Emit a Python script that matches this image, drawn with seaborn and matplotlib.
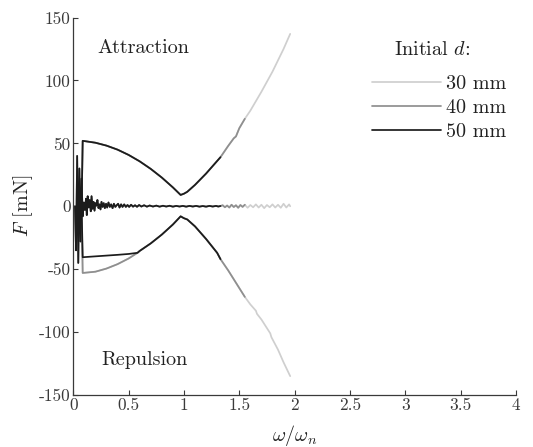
import numpy as np
import pandas as pd
import matplotlib
matplotlib.use("Agg")
import matplotlib.pyplot as plt
import seaborn as sns
from matplotlib.lines import Line2D

# ---- data -----------------------------------------------------------------
# Initial gap of each run and the last frequency ratio it reached
gaps_mm = [30, 40, 50]
gap_colors = ["#cfcfcf", "#8f8f8f", "#1c1c1c"]
end_freq = [1.96, 1.55, 1.33]

# Peak attractive force (upper envelope), shared by all runs
upper_x = [0.075, 0.085, 0.2, 0.3, 0.4, 0.5, 0.6, 0.7, 0.8, 0.9, 0.97, 1.0,
           1.03, 1.1, 1.2, 1.3, 1.33, 1.4, 1.45, 1.47, 1.5, 1.55, 1.6, 1.7,
           1.8, 1.9, 1.96]
upper_F = [0.0, 52.0, 50.5, 48.2, 45.0, 40.8, 35.7, 29.7, 22.8, 15.0, 9.0, 10.0,
           11.5, 17.0, 26.0, 36.0, 39.0, 48.0, 54.0, 55.5, 62.0, 69.5, 76.0, 91.0,
           107.0, 125.0, 137.0]

# Peak repulsive force (lower envelope)
lower_x = [0.075, 0.085, 0.2, 0.3, 0.4, 0.5, 0.58, 0.6, 0.7, 0.8, 0.9, 0.97,
           1.0, 1.03, 1.1, 1.2, 1.3, 1.33, 1.4, 1.5, 1.55, 1.6, 1.65, 1.66, 1.7,
           1.78, 1.79, 1.85, 1.9, 1.96]
lower_F_wide = [0.0, -53.0, -52.0, -49.5, -46.0, -41.5, -37.0, -35.5, -29.5,
                -22.5, -14.5, -8.0, -9.5, -10.5, -16.0, -26.0, -37.0, -42.0,
                -51.0, -65.0, -72.0, -78.0, -83.0, -85.5, -90.0, -101.0,
                -104.0, -114.0, -124.0, -135.0]
# the 50 mm run stays flatter at low frequency before joining the others
lower_F_50_low = [0.0, -40.5, -39.8, -39.2, -38.6, -37.9, -37.0]

# Mean force: start-up transient, then a small residual ripple
mean_x = [0.015, 0.025, 0.035, 0.045, 0.055, 0.065, 0.075, 0.085, 0.095,
          0.105, 0.115, 0.122, 0.130, 0.140, 0.148, 0.158, 0.165, 0.175,
          0.183, 0.192, 0.200, 0.210, 0.218, 0.228, 0.236, 0.246, 0.255,
          0.265, 0.275, 0.285, 0.296, 0.306, 0.318, 0.330, 0.342, 0.355,
          0.367, 0.380, 0.392, 0.405, 0.418, 0.432, 0.445, 0.460, 0.475,
          0.490, 0.505, 0.522, 0.540, 0.558, 0.576, 0.595, 0.615, 0.640,
          0.665, 0.690, 0.720, 0.750, 0.780, 0.810, 0.840, 0.870, 0.900,
          0.930, 0.960, 0.990, 1.020, 1.050, 1.080, 1.110, 1.140, 1.170,
          1.200, 1.230, 1.260, 1.290, 1.310, 1.330,
          1.350, 1.370, 1.390, 1.410, 1.430, 1.450, 1.470, 1.490, 1.510,
          1.530, 1.550, 1.575, 1.600, 1.625, 1.650, 1.675, 1.700, 1.725,
          1.750, 1.775, 1.800, 1.825, 1.850, 1.875, 1.900, 1.925, 1.950,
          1.960]
mean_F = [0.0, -35.0, 40.0, -45.0, 30.0, -28.0, 22.0, -8.0, 3.0,
          -3.0, 6.0, -7.0, 8.0, -1.0, 5.0, -4.0, 8.0, -2.0,
          3.5, -3.5, 2.5, 0.5, 5.0, -1.5, 1.5, -2.5, 3.5,
          -0.5, 2.5, -1.5, 2.0, -1.0, 3.0, -0.5, 1.5, -1.5,
          2.0, -0.5, 0.8, 2.0, -1.0, 1.5, -0.5, 1.5, -0.5,
          1.0, -0.5, 1.2, -0.3, 0.8, -0.4, 1.0, -0.2, 0.8,
          -0.3, 0.6, -0.2, 0.5, -0.3, 0.4, -0.2, 0.4, -0.3,
          0.3, -0.2, 0.3, -0.3, 0.3, -0.2, 0.3, -0.3, 0.2,
          -0.3, 0.3, -0.2, 0.3, -0.2, 0.2,
          0.8, -0.8, 0.6, -1.0, 1.2, -0.6, 0.8, -1.2, 1.0,
          -0.5, 1.2, -1.2, 1.0, -0.8, 1.5, -1.0, 1.2, -1.5,
          1.0, -0.8, 1.5, -1.0, 1.2, -1.2, 2.0, -1.0, 1.5,
          0.0]

x_ticks = [0, 0.5, 1, 1.5, 2, 2.5, 3, 3.5, 4]
x_tick_labels = ["0", "0.5", "1", "1.5", "2", "2.5", "3", "3.5", "4"]
y_ticks = [-150, -100, -50, 0, 50, 100, 150]
y_tick_labels = ["-150", "-100", "-50", "0", "50", "100", "150"]

# ---- style ----------------------------------------------------------------
sns.set_theme(style="ticks")
plt.rcParams.update({
    "font.family": "serif",
    "font.serif": ["cmr10", "DejaVu Serif"],
    "mathtext.fontset": "cm",
    "axes.unicode_minus": False,
    "axes.formatter.use_mathtext": True,
    "axes.edgecolor": "#3a3a3a",
    "xtick.color": "#3a3a3a",
    "ytick.color": "#3a3a3a",
    "text.color": "#222222",
    "axes.labelcolor": "#222222",
})

fig = plt.figure(figsize=(5.33, 4.47), dpi=100)
ax = fig.add_axes([0.1375, 0.1163, 0.8305, 0.8445])


def clip(xs, ys, xmax):
    keep = [(a, b) for a, b in zip(xs, ys) if a <= xmax + 1e-9]
    return pd.DataFrame(keep, columns=["w", "F"])


lw = 1.25
for d, col, xend in zip(gaps_mm, gap_colors, end_freq):
    lo = list(lower_F_wide)
    if d == 50:
        lo[:len(lower_F_50_low)] = lower_F_50_low
    for xs, ys in ((upper_x, upper_F), (lower_x, lo), (mean_x, mean_F)):
        df = clip(xs, ys, xend)
        sns.lineplot(data=df, x="w", y="F", color=col, lw=lw, sort=False,
                     estimator=None, ax=ax)

ax.set_xlim(0, 4)
ax.set_ylim(-150, 150)
ax.set_xticks(x_ticks)
ax.set_xticklabels(x_tick_labels)
ax.set_yticks(y_ticks)
ax.set_yticklabels(y_tick_labels)
ax.tick_params(direction="in", length=3.5, width=0.8, labelsize=12.5, pad=2)
for s in ("top", "right"):
    ax.spines[s].set_visible(False)
for s in ("left", "bottom"):
    ax.spines[s].set_linewidth(0.9)

ax.set_xlabel(r"$\omega/\omega_n$", fontsize=14.5, labelpad=7)
ax.set_ylabel(r"$F$ [mN]", fontsize=14.5, labelpad=3)

ax.text(0.22, 125.5, "Attraction", fontsize=14.5, va="center", ha="left")
ax.text(0.255, -122.5, "Repulsion", fontsize=14.5, va="center", ha="left")

# legend title drawn separately so its gap to the entries can be set freely
fig.text(432 / 533, 1 - 50 / 447, r"Initial $d$:", fontsize=14.5,
         ha="center", va="center")
handles = [Line2D([], [], color=c, lw=lw) for c in gap_colors]
labels = [f"{d} mm" for d in gaps_mm]
leg = ax.legend(handles, labels, frameon=False,
                fontsize=14.5, loc="upper right",
                bbox_to_anchor=(506 / 533, 1 - 75 / 447),
                bbox_transform=fig.transFigure, handlelength=3.4,
                handletextpad=0.25, labelspacing=0.3, borderpad=0,
                borderaxespad=0)

fig.savefig("out.png", dpi=100)
